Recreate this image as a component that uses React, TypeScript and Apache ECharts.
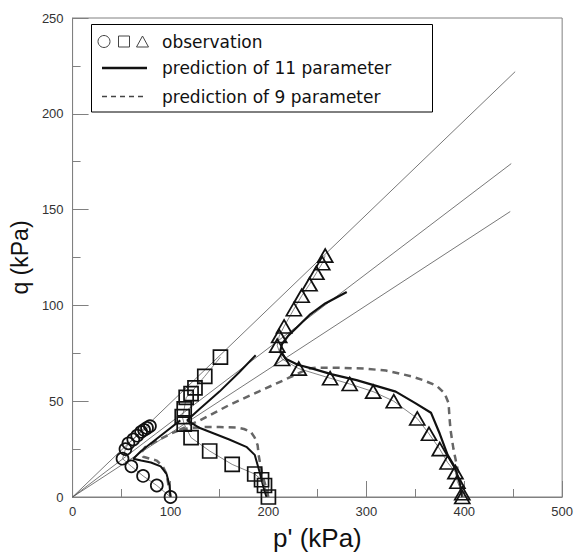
import { useEffect, useRef } from "react";
import * as echarts from "echarts";

// Observations [p', q] in kPa
const obsCircles = [[100,0],[86,6],[72,11],[60,16],[51,20],[54,25],[57,28],[62,30],[66,32],[70,34],[73,35],[76,36],[79,37]];
const obsSquares = [[200,0],[196,6],[193,9],[186,12],[163,17],[140,24],[121,31],[114,38],[112,42],[114,46],[116,52],[121,54],[125,57],[135,63],[151,73]];
const obsTriangles = [[398,0],[398,2],[393,8],[391,13],[383,18],[375,25],[364,33],[352,41],[328,50],[307,55],[283,59],[263,62],[231,67],[214,72],[209,79],[211,84],[216,89],[226,98],[234,105],[242,111],[249,117],[255,122],[258,126]];

// Prediction of 11 parameter (solid)
const pred11Circles = [[100,0],[99,6],[96,12],[90,16],[80,18],[70,19],[62,20],[70,24],[85,30],[100,36],[110,40]];
const pred11Squares = [[198,0],[195,5],[191,13],[186,22],[178,26],[160,30],[145,33],[130,36],[117,40],[130,46],[150,55],[170,65],[187,74]];
const pred11Triangles = [[398,0],[395,8],[390,16],[383,22],[375,33],[366,44],[350,49],[330,55],[310,58],[290,61],[265,64],[245,67],[230,69],[218,72],[212,76],[214,80],[220,84],[230,89],[242,95],[258,101],[280,107]];

// Prediction of 9 parameter (dashed)
const pred9Circles = [[100,0],[98,6],[96,12],[92,16],[86,19],[79,20],[72,21],[70,23],[74,26],[85,29],[100,33],[110,35]];
const pred9Squares = [[200,0],[197,6],[194,11],[192,16],[190,22],[189,27],[186,31],[182,34],[175,35.5],[167,36.3],[150,36.5],[135,36.5],[120,36],[110,35]];
const pred9Triangles = [[398,0],[396,8],[393,15],[389,25],[386,35],[385,41],[384,49],[380,54],[372,58],[358,61],[346,63],[320,66],[298,67],[270,67.5],[250,67.5],[241,67],[220,62],[190,55],[160,48],[130,40],[109,35]];

// Reference lines through origin
const refLineA = [[0,0],[452,222]];
const refLineB = [[0,0],[448,174]];
const refLineC = [[0,0],[447,149]];

const legendLabels = ["observation", "prediction of 11 parameter", "prediction of 9 parameter"];

export default function App() {
  const ref = useRef<HTMLDivElement>(null);
  useEffect(() => {
    if (!ref.current) return;
    const chart = echarts.init(ref.current, undefined, { renderer: "svg" });
    const axisColor = "#808080";
    const refSeries = [refLineA, refLineB, refLineC].map((d) => ({
      type: "line", data: d, symbol: "none", silent: true,
      lineStyle: { color: "#555", width: 0.8 }, z: 1,
    }));
    const obs = (d: number[][], symbol: string, size: any) => ({
      type: "line", data: d, symbol, symbolSize: size, showSymbol: true,
      lineStyle: { color: "#666", width: 0.8 },
      itemStyle: { color: "rgba(0,0,0,0)", borderColor: "#111", borderWidth: 1.7 },
      z: 5,
    });
    const solid = (d: number[][], w = 2) => ({
      type: "line", data: d, symbol: "none",
      lineStyle: { color: "#111", width: w }, z: 3,
    });
    const dashed = (d: number[][]) => ({
      type: "line", data: d, symbol: "none",
      lineStyle: { color: "#666", width: 2.5, type: [7, 5] }, z: 2,
    });
    const font = "Liberation Sans";
    chart.setOption({
      animation: false,
      grid: { left: 72, right: 10, top: 18, bottom: 58, show: true, borderColor: axisColor, borderWidth: 1 },
      xAxis: {
        type: "value", min: 0, max: 500, interval: 100,
        axisLine: { lineStyle: { color: axisColor } },
        axisTick: { inside: true, length: 16, lineStyle: { color: axisColor } },
        minorTick: { show: true, splitNumber: 2, length: 8, lineStyle: { color: axisColor } },
        splitLine: { show: false },
        axisLabel: { color: "#333", fontSize: 13, fontFamily: font, margin: 8 },
        name: "p' (kPa)", nameLocation: "middle", nameGap: 28,
        nameTextStyle: { fontSize: 26, fontFamily: font, color: "#111" },
      },
      yAxis: {
        type: "value", min: 0, max: 250, interval: 50,
        axisLine: { show: true, lineStyle: { color: axisColor } },
        axisTick: { show: true, inside: true, length: 16, lineStyle: { color: axisColor } },
        minorTick: { show: true, splitNumber: 2, length: 8, lineStyle: { color: axisColor } },
        splitLine: { show: false },
        axisLabel: { color: "#333", fontSize: 13, fontFamily: font, margin: 9 },
        name: "q (kPa)", nameLocation: "middle", nameGap: 27, nameRotate: 90,
        nameTextStyle: { fontSize: 23, fontFamily: font, color: "#111" },
      },
      series: [
        ...refSeries,
        dashed(pred9Circles), dashed(pred9Squares), dashed(pred9Triangles),
        solid(pred11Circles), solid(pred11Squares), solid(pred11Triangles, 2.2),
        obs(obsCircles, "circle", 12),
        obs(obsSquares, "rect", 14),
        obs(obsTriangles, "triangle", [15, 13]),
      ],
      graphic: [
        { type: "rect", z: 100, shape: { x: 91.5, y: 24.5, width: 341, height: 87.5 }, style: { fill: "#fff", stroke: "#000", lineWidth: 1 } },
        { type: "circle", z: 101, shape: { cx: 104, cy: 41.5, r: 6 }, style: { fill: "none", stroke: "#444", lineWidth: 1 } },
        { type: "rect", z: 101, shape: { x: 118.5, y: 36, width: 11, height: 11 }, style: { fill: "none", stroke: "#444", lineWidth: 1 } },
        { type: "polygon", z: 101, shape: { points: [[142.5, 36], [136.5, 47], [148.5, 47]] }, style: { fill: "none", stroke: "#444", lineWidth: 1 } },
        { type: "line", z: 101, shape: { x1: 102, y1: 68, x2: 147, y2: 68 }, style: { stroke: "#111", lineWidth: 2.5 } },
        { type: "line", z: 101, shape: { x1: 102, y1: 96.5, x2: 147, y2: 96.5 }, style: { stroke: "#444", lineWidth: 1.5, lineDash: [5, 4] } },
        ...legendLabels.map((t, i) => ({
          type: "text", z: 101, x: 162, y: [41.5, 68, 96.5][i],
          style: { text: t, fill: "#111", font: "17px 'DejaVu Sans'", verticalAlign: "middle", align: "left" },
        })),
      ],
    });
    return () => chart.dispose();
  }, []);
  return <div ref={ref} style={{ position: "absolute", left: 0, top: 0, width: 576, height: 556 }} />;
}
